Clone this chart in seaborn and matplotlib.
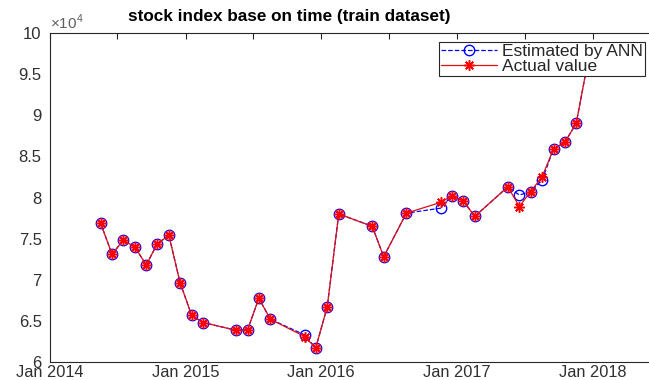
import matplotlib
matplotlib.use("Agg")
import matplotlib.pyplot as plt
import matplotlib.dates as mdates
from matplotlib.ticker import FixedLocator, FuncFormatter
import pandas as pd
import seaborn as sns

# Monthly observations of the training set (dated mid-month)
months = ["2014-05", "2014-06", "2014-07", "2014-08", "2014-09", "2014-10",
          "2014-11", "2014-12", "2015-01", "2015-02", "2015-05", "2015-06",
          "2015-07", "2015-08", "2015-11", "2015-12", "2016-01", "2016-02",
          "2016-05", "2016-06", "2016-08", "2016-11", "2016-12", "2017-01",
          "2017-02", "2017-05", "2017-06", "2017-07", "2017-08", "2017-09",
          "2017-10", "2017-11", "2017-12"]

actual = [76900, 73100, 74800, 74000, 71800, 74400, 75400, 69650, 65700, 64800,
          63850, 63950, 67750, 65200, 63100, 61700, 66700, 78000, 76500, 72800,
          78100, 79400, 80200, 79600, 77700, 81300, 78900, 80700, 82500, 85900,
          86700, 89000, 96200]

estimated = [76900, 73100, 74800, 74000, 71800, 74400, 75400, 69650, 65700, 64800,
             63850, 63950, 67750, 65200, 63300, 61700, 66700, 78000, 76500, 72800,
             78100, 78700, 80200, 79600, 77700, 81300, 80300, 80700, 82100, 85900,
             86700, 89000, 96200]

y_ticks = [60000, 65000, 70000, 75000, 80000, 85000, 90000, 95000, 100000]

dates = pd.to_datetime([m + "-17" for m in months])

sns.set_style("white")
plt.rcParams["font.family"] = ["Liberation Sans", "DejaVu Sans"]
plt.rcParams["mathtext.fontset"] = "custom"
plt.rcParams["mathtext.rm"] = "Liberation Sans"

W, H = 649, 380
fig = plt.figure(figsize=(W / 100, H / 100), dpi=100)
left, right, top, bottom = 50, 668, 33, 362
ax = fig.add_axes([left / W, (H - bottom) / H, (right - left) / W, (bottom - top) / H])
ax.set_facecolor("white")

sns.lineplot(x=dates, y=estimated, ax=ax, estimator=None, color="blue",
             linestyle="--", linewidth=0.9, marker="o", markersize=7.5,
             markerfacecolor="none", markeredgecolor="blue",
             markeredgewidth=1.0, label="Estimated by ANN")
sns.lineplot(x=dates, y=actual, ax=ax, estimator=None, color="#e01010",
             linestyle="-", linewidth=0.9, marker=(8, 2, 0), markersize=7.5,
             markeredgecolor="red", markeredgewidth=1.1, label="Actual value")

ax.set_xlim(pd.Timestamp("2014-01-01"), pd.Timestamp("2018-07-22"))
ax.set_ylim(60000, 100000)

ax.xaxis.set_major_locator(mdates.MonthLocator(bymonth=1))
ax.xaxis.set_major_formatter(mdates.DateFormatter("%b %Y"))
ax.xaxis.set_minor_locator(mdates.MonthLocator(bymonth=7))
ax.yaxis.set_major_locator(FixedLocator(y_ticks))
ax.yaxis.set_major_formatter(FuncFormatter(lambda v, p: f"{v / 1e4:g}"))

ax.tick_params(which="both", direction="in", length=4, width=0.8,
               top=True, right=True, color="#262626")
ax.tick_params(which="major", labelsize=12, labelcolor="#303030")
ax.tick_params(axis="x", which="major", pad=2, labelsize=11.8)
ax.tick_params(axis="y", which="major", pad=6)
for s in ax.spines.values():
    s.set_color("#262626")
    s.set_linewidth(0.8)

ax.set_xlabel("")
ax.set_ylabel("")

ax.text(0.0, 1.004, r"$\times10^{4}$", transform=ax.transAxes, ha="left",
        va="bottom", fontsize=11, color="#606060")
fig.text(289 / W, 1 - 17 / H, "stock index base on time (train dataset)",
         ha="center", va="center", fontsize=12.3, fontweight="bold", color="black")

leg = ax.legend(loc="upper right",
                bbox_to_anchor=((645 - left) / (right - left), 1 - (42 - top) / (bottom - top)),
                borderaxespad=0, fancybox=False, framealpha=1, edgecolor="#262626",
                fontsize=12.5, handlelength=3.2, labelspacing=0.0, borderpad=0.12,
                handletextpad=0.3)
leg.get_frame().set_linewidth(0.8)

fig.savefig("out.png", dpi=100)
